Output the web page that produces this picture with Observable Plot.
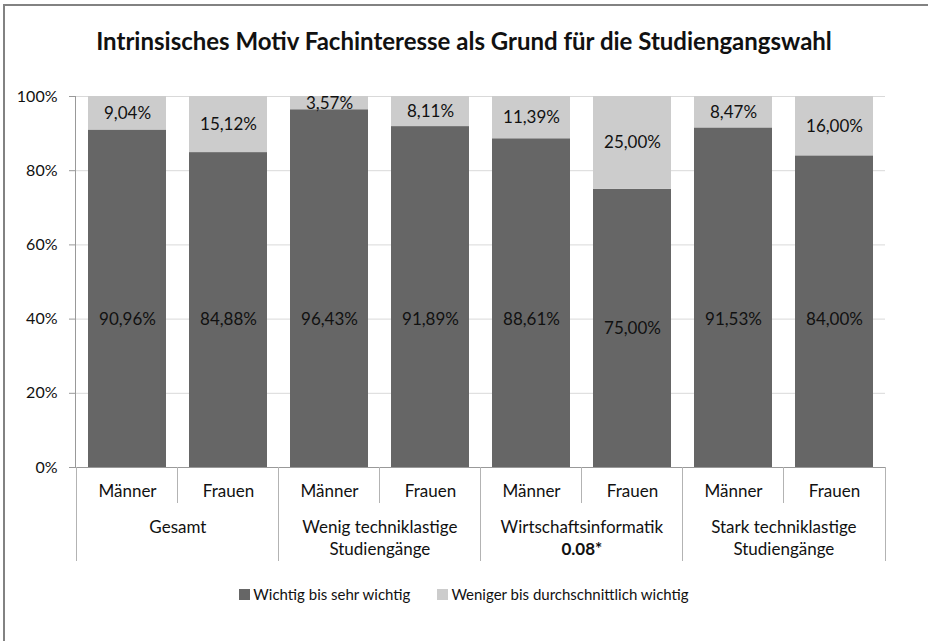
<!DOCTYPE html>
<html>
<head>
<meta charset="utf-8">
<script src="https://cdn.jsdelivr.net/npm/d3@7"></script>
<script src="https://cdn.jsdelivr.net/npm/@observablehq/plot@0.6"></script>
<style>
  html, body { margin: 0; padding: 0; background: #fff; }
  #wrap { position: relative; width: 928px; height: 641px; overflow: hidden; font-family: Lato, "Open Sans", sans-serif; }
  #border { position: absolute; left: 3px; top: 4px; right: -10px; bottom: -10px; border-top: 2px solid #828282; border-left: 2px solid #828282; }
  #chart { position: absolute; left: 0; top: 0; }
  #title { position: absolute; left: 0; right: 0; top: 26px; text-align: center; font-weight: bold; font-size: 24px; color: #111; }
  #legend { position: absolute; left: 0; right: 0; top: 585px; display: flex; justify-content: center; gap: 27px; font-size: 15px; color: #111; }
  #legend span.item { display: inline-flex; align-items: center; }
  #legend span.sw { display: inline-block; width: 11px; height: 11px; margin-right: 3px; }
</style>
</head>
<body>
<div id="wrap">
  <div id="border"></div>
  <div id="chart"></div>
  <div id="title"></div>
  <div id="legend"></div>
</div>
<script>
const titleText = "Intrinsisches Motiv Fachinteresse als Grund für die Studiengangswahl";
const groups = ["Gesamt", "Wenig techniklastige\nStudiengänge", "Wirtschaftsinformatik", "Stark techniklastige\nStudiengänge"];
const groupNotes = ["", "", "0.08*", ""];
const genders = ["Männer", "Frauen"];
const series = ["Wichtig bis sehr wichtig", "Weniger bis durchschnittlich wichtig"];
const colors = ["#666666", "#cccccc"];
const wichtig = [90.96, 84.88, 96.43, 91.89, 88.61, 75.00, 91.53, 84.00];
const weniger = [9.04, 15.12, 3.57, 8.11, 11.39, 25.00, 8.47, 16.00];
const yTicks = [0, 20, 40, 60, 80, 100];

const W = 928, H = 641, ML = 75, MR = 43, MT = 96, MB = 174;
const PAD_IN = 0.23, PAD_OUT = 0.115;
const step = (W - ML - MR) / (groups.length * genders.length);
const bw = step * (1 - PAD_IN);

const keys = [];
groups.forEach((g, gi) => genders.forEach((s, si) => keys.push(gi + "|" + s)));

const fmt = v => v.toFixed(2).replace(".", ",") + "%";

const rows = [];
keys.forEach((k, i) => {
  rows.push({key: k, series: series[0], value: wichtig[i], labelY: Math.min(wichtig[i] / 2, 40)});
  rows.push({key: k, series: series[1], value: weniger[i], labelY: wichtig[i] + weniger[i] / 2});
});

const groupRows = groups.map((g, gi) => ({key: gi + "|" + genders[1], name: g, note: groupNotes[gi]}));

// divider lines below the category axis, at slot boundaries
function dividers(I, scales, values, dims) {
  const g = d3.create("svg:g").attr("stroke", "#b3b3b3").attr("stroke-width", 1).attr("fill", "none");
  const y0 = dims.height - dims.marginBottom;
  keys.forEach((k, i) => {
    const xl = scales.x(k) - (step - bw) / 2;
    const len = i % 2 === 0 ? 94 : 36;
    g.append("line").attr("x1", Math.round(xl) + 0.5).attr("x2", Math.round(xl) + 0.5)
      .attr("y1", y0).attr("y2", y0 + len);
    if (i === keys.length - 1) {
      const xr = xl + step;
      g.append("line").attr("x1", Math.round(xr) + 0.5).attr("x2", Math.round(xr) + 0.5)
        .attr("y1", y0).attr("y2", y0 + 94);
    }
  });
  return g.node();
}

const chart = Plot.plot({
  width: W, height: H,
  marginLeft: ML, marginRight: MR, marginTop: MT, marginBottom: MB,
  style: {fontFamily: "Lato, 'Open Sans', sans-serif", fontSize: "17px", color: "#111", background: "transparent", overflow: "visible"},
  x: {domain: keys, paddingInner: PAD_IN, paddingOuter: PAD_OUT, axis: null},
  y: {domain: [0, 100], axis: null},
  color: {domain: series, range: colors},
  marks: [
    Plot.gridY(yTicks, {stroke: "#d9d9d9", strokeOpacity: 1}),
    Plot.barY(rows, {x: "key", y: "value", fill: "series"}),
    Plot.axisY({ticks: yTicks, tickFormat: d => d + "%", tickSize: 6, tickPadding: 12, stroke: "#999", label: null, fontSize: 16, fill: "#111"}),
    Plot.frame({anchor: "left", stroke: "#999"}),
    Plot.ruleY([0], {stroke: "#999"}),
    Plot.text(rows, {x: "key", y: "labelY", text: d => fmt(d.value), fill: "#111", fontSize: 17}),
    Plot.text(keys, {x: d => d, text: d => d.split("|")[1], frameAnchor: "bottom", dy: 29, fill: "#111", fontSize: 17}),
    Plot.text(groupRows, {x: "key", text: "name", frameAnchor: "bottom", dx: -step / 2, dy: 50, lineAnchor: "top", lineHeight: 22 / 17, fill: "#111", fontSize: 17}),
    Plot.text(groupRows.filter(d => d.note), {x: "key", text: "note", frameAnchor: "bottom", dx: -step / 2, dy: 87, fill: "#111", fontSize: 17, fontWeight: "bold"}),
    Plot.ruleX(keys.slice(0, 1), {x: d => d, render: dividers})
  ]
});
document.getElementById("chart").appendChild(chart);
document.getElementById("title").textContent = titleText;
const legend = document.getElementById("legend");
series.forEach((s, i) => {
  const item = document.createElement("span");
  item.className = "item";
  item.innerHTML = `<span class="sw" style="background:${colors[i]}"></span>${s}`;
  legend.appendChild(item);
});
</script>
</body>
</html>
